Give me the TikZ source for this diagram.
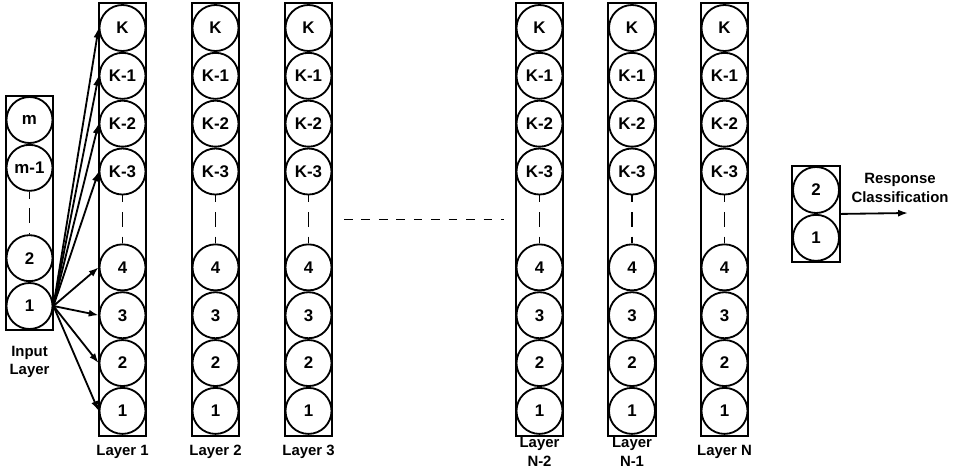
\documentclass[tikz,border=0pt]{standalone}
\usepackage{fontspec}
\setmainfont{Liberation Sans}
\usetikzlibrary{positioning, fit, arrows.meta}

\begin{document}
\begin{tikzpicture}[x=0.025cm, y=-0.025cm, line width=1.3pt,
		font=\bfseries\fontsize{10.6}{13}\selectfont,
		c/.style={circle, draw, minimum size=1.15cm, inner sep=0pt, font=\bfseries\fontsize{12}{14}\selectfont},
		col/.style={draw, inner sep=0pt, line width=1.5pt},
		gap/.style={dash pattern=on 10.5pt off 7pt, dash phase=5.7pt},
		lbl/.style={align=center},
		arr/.style={-{Latex[length=7pt, width=5pt]}}]
		\useasboundingbox (0,0) rectangle (957,474);

		% input layer
		\node [c] (in-m) at (29.5,120) {m};
		\node [c, below=0pt of in-m] (in-m1) {m-1};
		\node [c] (in-1) at (29.5,306) {1};
		\node [c, above=0pt of in-1] (in-2) {2};
		\node [col, fit=(in-m)(in-1)] (in) {};
		\draw [gap] (in-m1) -- (in-2);
		\node [lbl] (in-lbl) at (29.5,362) {Input\\Layer};

		% hidden layers
		\foreach \l/\x/\name in {1/122.5/Layer 1, 2/215.5/Layer 2, 3/308.5/Layer 3,
				4/539.5/Layer\\N-2, 5/632/Layer\\N-1, 6/724.5/Layer N} {
			\node [c] (l\l-K) at (\x,28) {K};
			\node [c, below=0pt of l\l-K] (l\l-K1) {K-1};
			\node [c, below=0pt of l\l-K1] (l\l-K2) {K-2};
			\node [c, below=0pt of l\l-K2] (l\l-K3) {K-3};
			\node [c, below=1.2cm of l\l-K3] (l\l-4) {4};
			\node [c, below=0pt of l\l-4] (l\l-3) {3};
			\node [c, below=0pt of l\l-3] (l\l-2) {2};
			\node [c, below=0pt of l\l-2] (l\l-1) {1};
			\node [col, fit=(l\l-K)(l\l-1), inner ysep=0.6pt] (l\l) {};
			\draw [gap] (l\l-K3) -- (l\l-4);
			\node [lbl] (l\l-lbl) at (\x,452) {\name};
		}
		\draw [dash pattern=on 6.2pt off 6.2pt, shorten <=7.5pt, shorten >=7.5pt] (l3.east) -- (l4.west);

		% input to layer 1
		\foreach \n in {K, K1, K2, K3, 4, 3, 2, 1}
			\draw [arr] (in-1.east) -- (l1-\n.west);

		% output
		\node [c] (out-2) at (816,190) {2};
		\node [c, below=0pt of out-2] (out-1) {1};
		\node [col, fit=(out-2)(out-1)] (out) {};
		\coordinate (resp) at (908,213);
		\draw [arr] (out.east) -- (resp);
		\node [lbl] (resp-lbl) at (900,188) {Response\\Classification};
	\end{tikzpicture}
\end{document}
